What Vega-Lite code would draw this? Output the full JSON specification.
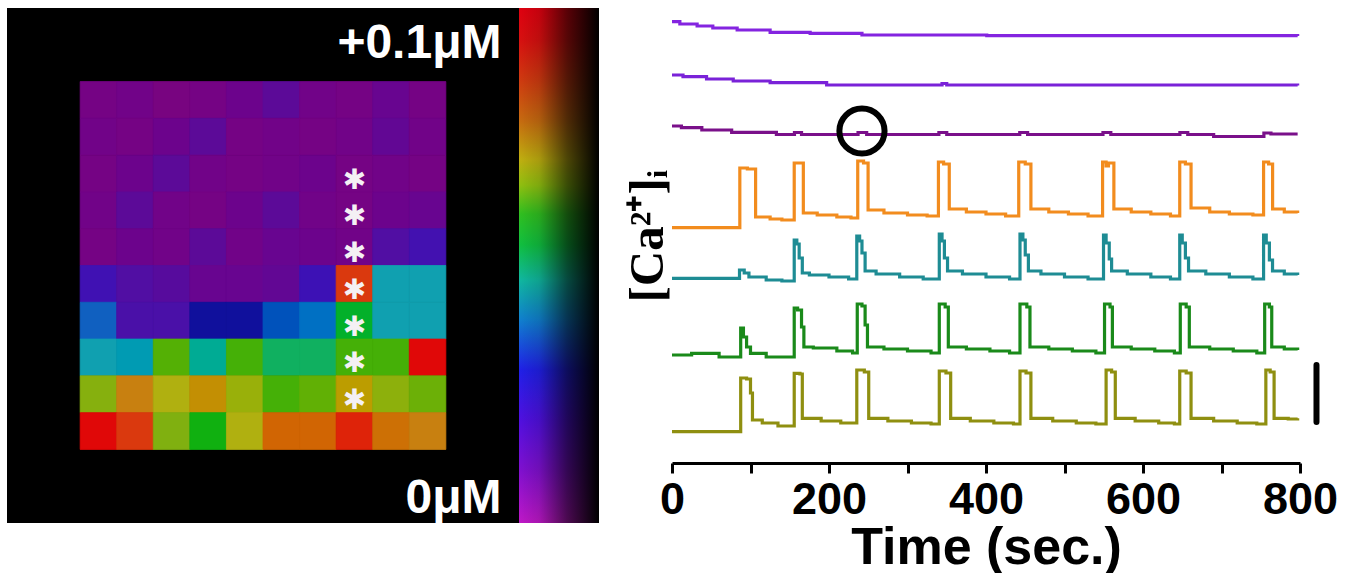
{
  "$schema": "https://vega.github.io/schema/vega-lite/v6.json",
  "background": "white",
  "padding": {"left": 7, "top": 8, "right": 0, "bottom": 0},
  "bounds": "flush",
  "spacing": 0,
  "config": {"view": {"stroke": null}},
  "datasets": {
    "grid": [
      {"row":0,"col":0,"v":0.001,"star":0},{"row":0,"col":1,"v":0.002,"star":0},{"row":0,"col":2,"v":0.000,"star":0},{"row":0,"col":3,"v":0.001,"star":0},{"row":0,"col":4,"v":0.003,"star":0},{"row":0,"col":5,"v":0.006,"star":0},{"row":0,"col":6,"v":0.002,"star":0},{"row":0,"col":7,"v":0.001,"star":0},{"row":0,"col":8,"v":0.004,"star":0},{"row":0,"col":9,"v":0.001,"star":0},
      {"row":1,"col":0,"v":0.002,"star":0},{"row":1,"col":1,"v":0.001,"star":0},{"row":1,"col":2,"v":0.003,"star":0},{"row":1,"col":3,"v":0.006,"star":0},{"row":1,"col":4,"v":0.001,"star":0},{"row":1,"col":5,"v":0.002,"star":0},{"row":1,"col":6,"v":0.001,"star":0},{"row":1,"col":7,"v":0.002,"star":0},{"row":1,"col":8,"v":0.005,"star":0},{"row":1,"col":9,"v":0.002,"star":0},
      {"row":2,"col":0,"v":0.001,"star":0},{"row":2,"col":1,"v":0.003,"star":0},{"row":2,"col":2,"v":0.006,"star":0},{"row":2,"col":3,"v":0.002,"star":0},{"row":2,"col":4,"v":0.001,"star":0},{"row":2,"col":5,"v":0.002,"star":0},{"row":2,"col":6,"v":0.003,"star":0},{"row":2,"col":7,"v":0.001,"star":1},{"row":2,"col":8,"v":0.002,"star":0},{"row":2,"col":9,"v":0.001,"star":0},
      {"row":3,"col":0,"v":0.002,"star":0},{"row":3,"col":1,"v":0.006,"star":0},{"row":3,"col":2,"v":0.002,"star":0},{"row":3,"col":3,"v":0.001,"star":0},{"row":3,"col":4,"v":0.003,"star":0},{"row":3,"col":5,"v":0.006,"star":0},{"row":3,"col":6,"v":0.002,"star":0},{"row":3,"col":7,"v":0.001,"star":1},{"row":3,"col":8,"v":0.003,"star":0},{"row":3,"col":9,"v":0.004,"star":0},
      {"row":4,"col":0,"v":0.001,"star":0},{"row":4,"col":1,"v":0.003,"star":0},{"row":4,"col":2,"v":0.002,"star":0},{"row":4,"col":3,"v":0.006,"star":0},{"row":4,"col":4,"v":0.002,"star":0},{"row":4,"col":5,"v":0.004,"star":0},{"row":4,"col":6,"v":0.003,"star":0},{"row":4,"col":7,"v":0.002,"star":1},{"row":4,"col":8,"v":0.010,"star":0},{"row":4,"col":9,"v":0.015,"star":0},
      {"row":5,"col":0,"v":0.016,"star":0},{"row":5,"col":1,"v":0.010,"star":0},{"row":5,"col":2,"v":0.008,"star":0},{"row":5,"col":3,"v":0.004,"star":0},{"row":5,"col":4,"v":0.004,"star":0},{"row":5,"col":5,"v":0.005,"star":0},{"row":5,"col":6,"v":0.017,"star":0},{"row":5,"col":7,"v":0.092,"star":1},{"row":5,"col":8,"v":0.040,"star":0},{"row":5,"col":9,"v":0.040,"star":0},
      {"row":6,"col":0,"v":0.030,"star":0},{"row":6,"col":1,"v":0.012,"star":0},{"row":6,"col":2,"v":0.012,"star":0},{"row":6,"col":3,"v":0.025,"star":0},{"row":6,"col":4,"v":0.025,"star":0},{"row":6,"col":5,"v":0.029,"star":0},{"row":6,"col":6,"v":0.032,"star":0},{"row":6,"col":7,"v":0.054,"star":1},{"row":6,"col":8,"v":0.040,"star":0},{"row":6,"col":9,"v":0.040,"star":0},
      {"row":7,"col":0,"v":0.040,"star":0},{"row":7,"col":1,"v":0.039,"star":0},{"row":7,"col":2,"v":0.058,"star":0},{"row":7,"col":3,"v":0.045,"star":0},{"row":7,"col":4,"v":0.057,"star":0},{"row":7,"col":5,"v":0.050,"star":0},{"row":7,"col":6,"v":0.050,"star":0},{"row":7,"col":7,"v":0.057,"star":1},{"row":7,"col":8,"v":0.057,"star":0},{"row":7,"col":9,"v":0.100,"star":0},
      {"row":8,"col":0,"v":0.063,"star":0},{"row":8,"col":1,"v":0.080,"star":0},{"row":8,"col":2,"v":0.070,"star":0},{"row":8,"col":3,"v":0.077,"star":0},{"row":8,"col":4,"v":0.066,"star":0},{"row":8,"col":5,"v":0.057,"star":0},{"row":8,"col":6,"v":0.059,"star":0},{"row":8,"col":7,"v":0.074,"star":1},{"row":8,"col":8,"v":0.064,"star":0},{"row":8,"col":9,"v":0.060,"star":0},
      {"row":9,"col":0,"v":0.100,"star":0},{"row":9,"col":1,"v":0.092,"star":0},{"row":9,"col":2,"v":0.062,"star":0},{"row":9,"col":3,"v":0.055,"star":0},{"row":9,"col":4,"v":0.070,"star":0},{"row":9,"col":5,"v":0.085,"star":0},{"row":9,"col":6,"v":0.085,"star":0},{"row":9,"col":7,"v":0.097,"star":0},{"row":9,"col":8,"v":0.083,"star":0},{"row":9,"col":9,"v":0.080,"star":0}
    ],
    "traces": [
      {"s":"p1","t":0,"v":44.13},{"s":"p1","t":10,"v":43.9},{"s":"p1","t":32,"v":43.7},{"s":"p1","t":52,"v":43.5},{"s":"p1","t":83,"v":43.3},{"s":"p1","t":125,"v":43.07},{"s":"p1","t":176,"v":42.97},{"s":"p1","t":242,"v":42.8},{"s":"p1","t":401,"v":42.73},{"s":"p1","t":797,"v":42.7},
      {"s":"p2","t":0,"v":38.8},{"s":"p2","t":14,"v":38.63},{"s":"p2","t":44,"v":38.4},{"s":"p2","t":78,"v":38.2},{"s":"p2","t":125,"v":38.03},{"s":"p2","t":197,"v":37.8},{"s":"p2","t":344,"v":37.95},{"s":"p2","t":350,"v":37.8},{"s":"p2","t":797,"v":37.75},
      {"s":"p3","t":0,"v":33.7},{"s":"p3","t":12,"v":33.53},{"s":"p3","t":38,"v":33.3},{"s":"p3","t":76,"v":33.07},{"s":"p3","t":133,"v":32.85},{"s":"p3","t":156,"v":33.05},{"s":"p3","t":165,"v":32.85},{"s":"p3","t":237,"v":33.05},{"s":"p3","t":248,"v":32.85},{"s":"p3","t":340,"v":33.05},{"s":"p3","t":350,"v":32.85},{"s":"p3","t":443,"v":33.05},{"s":"p3","t":453,"v":32.85},{"s":"p3","t":549,"v":33.05},{"s":"p3","t":559,"v":32.85},{"s":"p3","t":647,"v":33.05},{"s":"p3","t":657,"v":32.85},{"s":"p3","t":690,"v":32.65},{"s":"p3","t":754,"v":33.0},{"s":"p3","t":763,"v":32.9},{"s":"p3","t":797,"v":32.9},
      {"s":"o","t":0,"v":23.53},{"s":"o","t":86.4,"v":29.5},{"s":"o","t":96,"v":29.4},{"s":"o","t":106.5,"v":24.6},{"s":"o","t":125,"v":24.4},{"s":"o","t":140,"v":24.3},{"s":"o","t":155.7,"v":30.0},{"s":"o","t":167.3,"v":25.0},{"s":"o","t":185,"v":24.8},{"s":"o","t":210,"v":24.6},{"s":"o","t":228,"v":24.5},{"s":"o","t":236.6,"v":30.2},{"s":"o","t":244,"v":30.0},{"s":"o","t":249.8,"v":25.3},{"s":"o","t":270,"v":25.0},{"s":"o","t":300,"v":24.8},{"s":"o","t":325,"v":24.7},{"s":"o","t":339.4,"v":30.1},{"s":"o","t":346,"v":29.9},{"s":"o","t":353.2,"v":25.4},{"s":"o","t":375,"v":25.1},{"s":"o","t":400,"v":24.9},{"s":"o","t":425,"v":24.7},{"s":"o","t":441.7,"v":30.1},{"s":"o","t":450,"v":29.9},{"s":"o","t":457.2,"v":25.4},{"s":"o","t":480,"v":25.1},{"s":"o","t":505,"v":24.9},{"s":"o","t":530,"v":24.7},{"s":"o","t":548.5,"v":30.1},{"s":"o","t":553,"v":29.7},{"s":"o","t":556,"v":30.0},{"s":"o","t":562.9,"v":25.4},{"s":"o","t":585,"v":25.1},{"s":"o","t":610,"v":24.9},{"s":"o","t":635,"v":24.7},{"s":"o","t":646.8,"v":30.1},{"s":"o","t":654,"v":29.9},{"s":"o","t":661.2,"v":25.5},{"s":"o","t":685,"v":25.1},{"s":"o","t":710,"v":24.9},{"s":"o","t":740,"v":24.8},{"s":"o","t":753.6,"v":30.1},{"s":"o","t":760,"v":29.9},{"s":"o","t":765.1,"v":25.4},{"s":"o","t":780,"v":25.1},{"s":"o","t":797,"v":25.0},
      {"s":"c","t":0,"v":18.47},{"s":"c","t":86,"v":19.3},{"s":"c","t":92,"v":19.0},{"s":"c","t":98,"v":18.6},{"s":"c","t":120,"v":18.3},{"s":"c","t":140,"v":18.2},{"s":"c","t":155.7,"v":22.3},{"s":"c","t":159,"v":21.9},{"s":"c","t":162,"v":20.5},{"s":"c","t":166,"v":19.0},{"s":"c","t":175,"v":18.8},{"s":"c","t":200,"v":18.6},{"s":"c","t":225,"v":18.4},{"s":"c","t":235.4,"v":22.7},{"s":"c","t":239,"v":22.2},{"s":"c","t":242,"v":21.0},{"s":"c","t":246,"v":19.2},{"s":"c","t":260,"v":18.9},{"s":"c","t":290,"v":18.6},{"s":"c","t":320,"v":18.4},{"s":"c","t":340.5,"v":22.9},{"s":"c","t":344,"v":22.2},{"s":"c","t":347,"v":20.5},{"s":"c","t":351,"v":19.2},{"s":"c","t":370,"v":18.9},{"s":"c","t":400,"v":18.6},{"s":"c","t":430,"v":18.4},{"s":"c","t":443.3,"v":22.9},{"s":"c","t":447,"v":22.3},{"s":"c","t":450,"v":20.8},{"s":"c","t":454,"v":19.2},{"s":"c","t":470,"v":18.9},{"s":"c","t":500,"v":18.6},{"s":"c","t":530,"v":18.4},{"s":"c","t":549.7,"v":22.8},{"s":"c","t":553,"v":22.0},{"s":"c","t":557,"v":20.4},{"s":"c","t":560,"v":19.2},{"s":"c","t":580,"v":18.9},{"s":"c","t":610,"v":18.6},{"s":"c","t":635,"v":18.4},{"s":"c","t":646.8,"v":22.8},{"s":"c","t":650,"v":22.0},{"s":"c","t":654,"v":20.5},{"s":"c","t":658,"v":19.2},{"s":"c","t":680,"v":18.9},{"s":"c","t":710,"v":18.6},{"s":"c","t":740,"v":18.4},{"s":"c","t":753.6,"v":22.8},{"s":"c","t":757,"v":22.0},{"s":"c","t":761,"v":20.3},{"s":"c","t":765,"v":19.2},{"s":"c","t":780,"v":18.9},{"s":"c","t":797,"v":18.8},
      {"s":"g","t":0,"v":10.8},{"s":"g","t":25,"v":10.97},{"s":"g","t":60,"v":10.6},{"s":"g","t":87.5,"v":13.5},{"s":"g","t":91,"v":12.6},{"s":"g","t":95,"v":11.6},{"s":"g","t":100,"v":10.97},{"s":"g","t":120,"v":10.6},{"s":"g","t":150,"v":10.6},{"s":"g","t":155.7,"v":15.5},{"s":"g","t":160,"v":15.3},{"s":"g","t":165,"v":13.6},{"s":"g","t":168,"v":11.6},{"s":"g","t":180,"v":11.5},{"s":"g","t":210,"v":11.2},{"s":"g","t":230,"v":11.0},{"s":"g","t":236,"v":15.9},{"s":"g","t":242,"v":15.7},{"s":"g","t":246,"v":13.8},{"s":"g","t":249,"v":11.6},{"s":"g","t":270,"v":11.4},{"s":"g","t":300,"v":11.2},{"s":"g","t":330,"v":11.0},{"s":"g","t":340.5,"v":15.9},{"s":"g","t":348,"v":15.6},{"s":"g","t":352,"v":11.6},{"s":"g","t":375,"v":11.4},{"s":"g","t":405,"v":11.2},{"s":"g","t":430,"v":11.0},{"s":"g","t":443.3,"v":15.9},{"s":"g","t":452,"v":15.6},{"s":"g","t":456,"v":11.6},{"s":"g","t":480,"v":11.4},{"s":"g","t":510,"v":11.2},{"s":"g","t":540,"v":11.0},{"s":"g","t":551,"v":15.9},{"s":"g","t":558,"v":15.6},{"s":"g","t":561,"v":11.6},{"s":"g","t":585,"v":11.4},{"s":"g","t":615,"v":11.2},{"s":"g","t":640,"v":11.0},{"s":"g","t":647.5,"v":15.9},{"s":"g","t":655,"v":15.6},{"s":"g","t":659,"v":11.6},{"s":"g","t":685,"v":11.4},{"s":"g","t":715,"v":11.2},{"s":"g","t":745,"v":11.0},{"s":"g","t":755,"v":15.9},{"s":"g","t":761,"v":15.6},{"s":"g","t":764,"v":11.6},{"s":"g","t":780,"v":11.4},{"s":"g","t":797,"v":11.3},
      {"s":"y","t":0,"v":3.13},{"s":"y","t":87.5,"v":8.5},{"s":"y","t":95,"v":8.4},{"s":"y","t":100,"v":7.0},{"s":"y","t":102.5,"v":4.3},{"s":"y","t":115,"v":4.0},{"s":"y","t":135,"v":3.7},{"s":"y","t":155.7,"v":8.97},{"s":"y","t":163,"v":8.9},{"s":"y","t":166,"v":4.47},{"s":"y","t":190,"v":4.2},{"s":"y","t":215,"v":4.0},{"s":"y","t":235.4,"v":9.3},{"s":"y","t":245,"v":9.1},{"s":"y","t":250.6,"v":4.47},{"s":"y","t":275,"v":4.2},{"s":"y","t":305,"v":4.0},{"s":"y","t":330,"v":3.9},{"s":"y","t":340.5,"v":9.2},{"s":"y","t":349,"v":9.0},{"s":"y","t":355,"v":4.47},{"s":"y","t":380,"v":4.2},{"s":"y","t":410,"v":4.0},{"s":"y","t":435,"v":3.9},{"s":"y","t":443.3,"v":9.2},{"s":"y","t":451,"v":9.0},{"s":"y","t":457.2,"v":4.47},{"s":"y","t":485,"v":4.2},{"s":"y","t":515,"v":4.0},{"s":"y","t":540,"v":3.9},{"s":"y","t":553,"v":9.3},{"s":"y","t":560,"v":9.1},{"s":"y","t":564.7,"v":4.47},{"s":"y","t":590,"v":4.2},{"s":"y","t":620,"v":4.0},{"s":"y","t":640,"v":3.9},{"s":"y","t":646.8,"v":9.2},{"s":"y","t":655,"v":9.0},{"s":"y","t":661.2,"v":4.47},{"s":"y","t":690,"v":4.2},{"s":"y","t":720,"v":4.0},{"s":"y","t":745,"v":3.9},{"s":"y","t":756.5,"v":9.3},{"s":"y","t":762,"v":9.1},{"s":"y","t":767,"v":4.47},{"s":"y","t":785,"v":4.4},{"s":"y","t":797,"v":4.47}
    ],
    "highlight": [{"t": 242, "v": 33.2}],
    "scalebar": [{"t": 821, "lo": 4.1, "hi": 9.8}],
    "colorbar": [{"lo": 0, "hi": 0.1}]
  },
  "hconcat": [
    {
      "width": 512,
      "height": 515,
      "view": {"fill": "black", "stroke": null},
      "data": {"name": "grid"},
      "encoding": {
        "x": {"field": "col", "type": "ordinal", "scale": {"domain": [-2, -1, 0, 1, 2, 3, 4, 5, 6, 7, 8, 9, 10, 11], "paddingInner": 0, "paddingOuter": 0}, "axis": null},
        "y": {"field": "row", "type": "ordinal", "scale": {"domain": [-2, -1, 0, 1, 2, 3, 4, 5, 6, 7, 8, 9, 10, 11], "paddingInner": 0, "paddingOuter": 0}, "axis": null}
      },
      "layer": [
        {
          "mark": {"type": "rect", "strokeWidth": 0.8},
          "encoding": {
            "color": {
              "field": "v", "type": "quantitative", "legend": null,
              "scale": {
                "domain": [0, 0.006, 0.012, 0.018, 0.025, 0.03, 0.04, 0.05, 0.055, 0.062, 0.07, 0.08, 0.09, 0.1],
                "range": ["#780480", "#5c0a98", "#4a10a8", "#3a12b8", "#10109c", "#1060c0", "#10a0b0", "#10b060", "#10b010", "#80b010", "#b0b010", "#c88010", "#d84010", "#e00808"]
              }
            },
            "stroke": {
              "field": "v", "type": "quantitative", "legend": null,
              "scale": {
                "domain": [0, 0.006, 0.012, 0.018, 0.025, 0.03, 0.04, 0.05, 0.055, 0.062, 0.07, 0.08, 0.09, 0.1],
                "range": ["#780480", "#5c0a98", "#4a10a8", "#3a12b8", "#10109c", "#1060c0", "#10a0b0", "#10b060", "#10b010", "#80b010", "#b0b010", "#c88010", "#d84010", "#e00808"]
              }
            }
          }
        },
        {
          "transform": [{"filter": "datum.star == 1"}],
          "mark": {"type": "text", "text": "✱", "color": "#f4f0f4", "font": "DejaVu Sans", "fontSize": 28, "baseline": "middle", "dy": 7}
        }
      ]
    },
    {
      "width": 80,
      "height": 515,
      "data": {"name": "colorbar"},
      "encoding": {
        "y": {
          "field": "lo", "type": "quantitative",
          "scale": {"domain": [0, 0.1], "nice": false},
          "axis": {
            "orient": "left", "values": [0, 0.1], "title": null, "domain": false, "ticks": false, "grid": false,
            "labelExpr": "datum.value > 0.05 ? '+0.1μM' : '0μM'",
            "labelColor": "white", "labelFont": "Liberation Sans", "labelFontWeight": "bold", "labelFontSize": 48,
            "labelPadding": 18, "labelBaseline": "alphabetic", "labelFlush": false, "labelBound": false, "labelOverlap": false,
            "labelOffset": {"condition": {"test": "datum.value > 0.05", "value": 49}, "value": -11}
          }
        },
        "y2": {"field": "hi"}
      },
      "layer": [
        {
          "mark": {
            "type": "rect",
            "color": {
              "gradient": "linear", "x1": 0, "y1": 0, "x2": 0, "y2": 1,
              "stops": [
                {"offset": 0, "color": "#e00010"},
                {"offset": 0.062, "color": "#d81010"},
                {"offset": 0.14, "color": "#d03a10"},
                {"offset": 0.217, "color": "#c86a10"},
                {"offset": 0.295, "color": "#c0b010"},
                {"offset": 0.344, "color": "#90c010"},
                {"offset": 0.4, "color": "#30c020"},
                {"offset": 0.46, "color": "#10c040"},
                {"offset": 0.528, "color": "#10b8a0"},
                {"offset": 0.606, "color": "#1080d0"},
                {"offset": 0.703, "color": "#2020e8"},
                {"offset": 0.8, "color": "#5010e0"},
                {"offset": 0.897, "color": "#8010d0"},
                {"offset": 1, "color": "#c018c8"}
              ]
            }
          }
        },
        {
          "mark": {
            "type": "rect",
            "color": {
              "gradient": "linear", "x1": 0, "y1": 0, "x2": 1, "y2": 0,
              "stops": [
                {"offset": 0, "color": "rgba(0,0,0,0)"},
                {"offset": 0.25, "color": "rgba(0,0,0,0.12)"},
                {"offset": 0.6, "color": "rgba(0,0,0,0.6)"},
                {"offset": 1, "color": "rgba(0,0,0,1)"}
              ]
            }
          }
        }
      ]
    },
    {
      "width": 73,
      "height": 10,
      "data": {"values": []},
      "mark": {"type": "point", "opacity": 0},
      "encoding": {}
    },
    {
      "width": 628,
      "height": 455,
      "view": {"stroke": null},
      "encoding": {
        "x": {
          "field": "t", "type": "quantitative",
          "scale": {"domain": [0, 800], "nice": false, "zero": false},
          "axis": {
            "values": [0, 100, 200, 300, 400, 500, 600, 700, 800],
            "labelExpr": "datum.value % 200 == 0 ? datum.label : ''",
            "format": "d", "grid": false,
            "domainColor": "black", "domainWidth": 3, "tickColor": "black", "tickWidth": 3, "tickSize": 10,
            "labelFont": "Liberation Sans", "labelFontWeight": "bold", "labelFontSize": 45, "labelColor": "black", "labelPadding": 4,
            "labelFlush": false, "labelOverlap": false,
            "title": "Time (sec.)", "titleFont": "Liberation Sans", "titleFontWeight": "bold", "titleFontSize": 52, "titleColor": "black", "titlePadding": 0
          }
        },
        "y": {
          "field": "v", "type": "quantitative",
          "scale": {"domain": [0, 45.5], "nice": false, "zero": false},
          "axis": {
            "title": "[Ca²⁺]ᵢ", "titleFont": "Liberation Serif", "titleFontWeight": "bold", "titleFontSize": 49, "titleColor": "black", "titlePadding": 0,
            "domain": false, "ticks": false, "labels": false, "grid": false
          }
        }
      },
      "layer": [
        {
          "data": {"name": "traces"},
          "mark": {"type": "line", "interpolate": "step-after", "strokeWidth": 3.2},
          "encoding": {
            "color": {
              "field": "s", "type": "nominal", "legend": null,
              "scale": {"domain": ["p1", "p2", "p3", "o", "c", "g", "y"], "range": ["#8424e0", "#7a22d8", "#7a108a", "#f28c1e", "#1e8c94", "#1a8a1a", "#8f8f10"]}
            }
          }
        },
        {
          "data": {"name": "highlight"},
          "mark": {"type": "point", "shape": "circle", "filled": false, "size": 2040, "stroke": "black", "strokeWidth": 6, "opacity": 1}
        },
        {
          "data": {"name": "scalebar"},
          "mark": {"type": "rule", "color": "black", "strokeWidth": 6, "strokeCap": "round"},
          "encoding": {"y": {"field": "lo", "type": "quantitative"}, "y2": {"field": "hi"}}
        }
      ]
    }
  ]
}
